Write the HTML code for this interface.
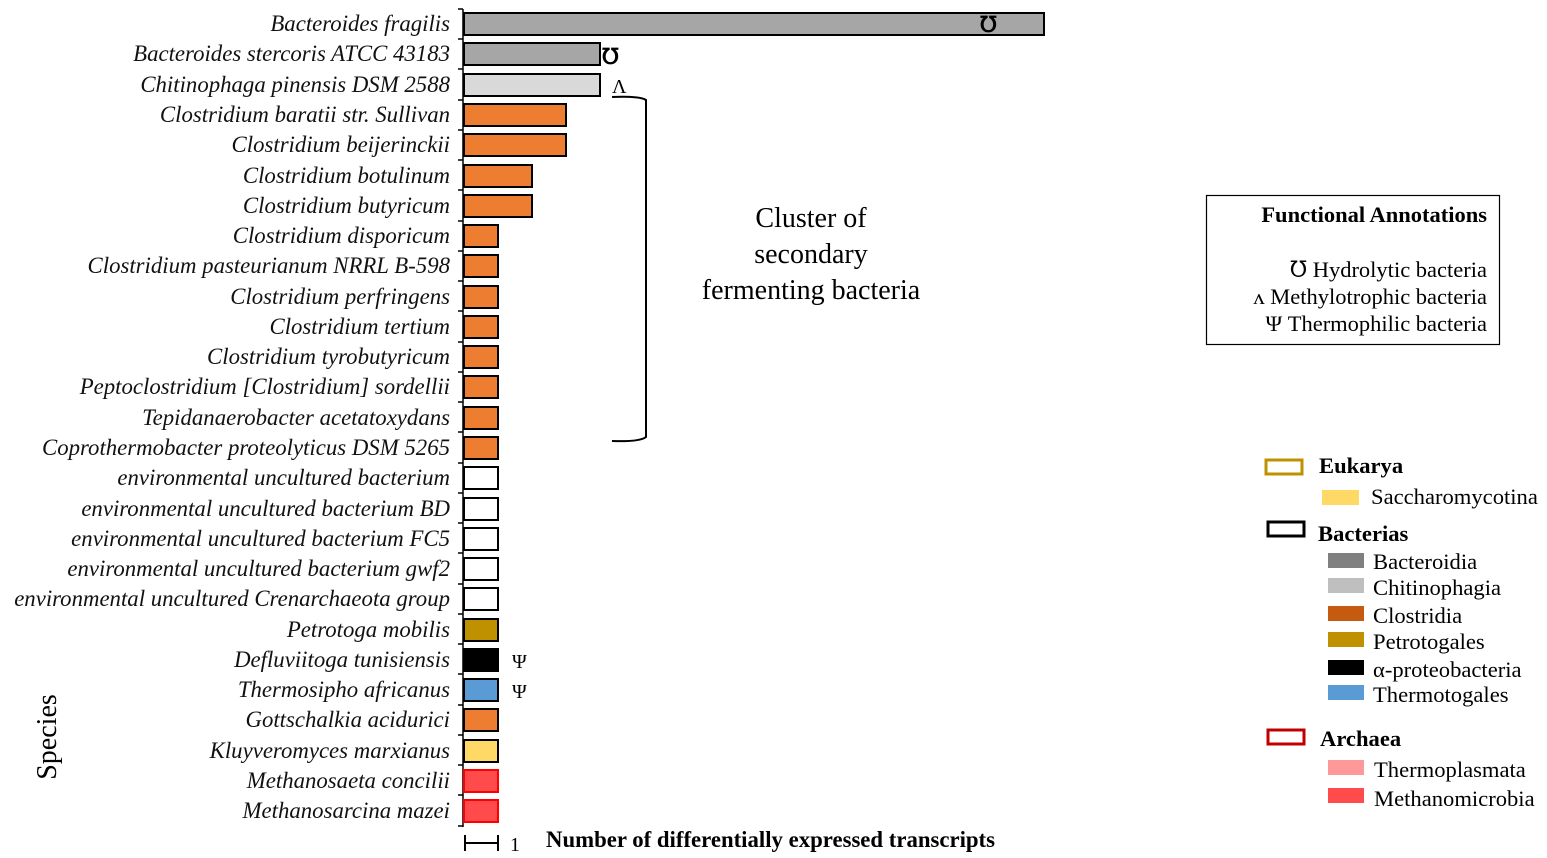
<!DOCTYPE html>
<html><head><meta charset="utf-8"><style>
html,body{margin:0;padding:0;background:#fff;}
svg{display:block;font-family:"Liberation Serif",serif;}
</style></head><body>
<svg width="1547" height="858" viewBox="0 0 1547 858" xmlns="http://www.w3.org/2000/svg">
<g font-style="italic" font-size="22.8" text-anchor="end" fill="#111">
<text x="450" y="31">Bacteroides fragilis</text>
<text x="450" y="61">Bacteroides stercoris ATCC 43183</text>
<text x="450" y="92">Chitinophaga pinensis DSM 2588</text>
<text x="450" y="122">Clostridium baratii str. Sullivan</text>
<text x="450" y="152">Clostridium beijerinckii</text>
<text x="450" y="183">Clostridium botulinum</text>
<text x="450" y="213">Clostridium butyricum</text>
<text x="450" y="243">Clostridium disporicum</text>
<text x="450" y="273">Clostridium pasteurianum NRRL B-598</text>
<text x="450" y="304">Clostridium perfringens</text>
<text x="450" y="334">Clostridium tertium</text>
<text x="450" y="364">Clostridium tyrobutyricum</text>
<text x="450" y="394">Peptoclostridium [Clostridium] sordellii</text>
<text x="450" y="425">Tepidanaerobacter acetatoxydans</text>
<text x="450" y="455">Coprothermobacter proteolyticus DSM 5265</text>
<text x="450" y="485">environmental uncultured bacterium</text>
<text x="450" y="516">environmental uncultured bacterium BD</text>
<text x="450" y="546">environmental uncultured bacterium FC5</text>
<text x="450" y="576">environmental uncultured bacterium gwf2</text>
<text x="450" y="606">environmental uncultured Crenarchaeota group</text>
<text x="450" y="637">Petrotoga mobilis</text>
<text x="450" y="667">Defluviitoga tunisiensis</text>
<text x="450" y="697">Thermosipho africanus</text>
<text x="450" y="727">Gottschalkia acidurici</text>
<text x="450" y="758">Kluyveromyces marxianus</text>
<text x="450" y="788">Methanosaeta concilii</text>
<text x="450" y="818">Methanosarcina mazei</text>
</g>
<line x1="463" y1="9" x2="463" y2="827" stroke="#000" stroke-width="1.5"/>
<g stroke="#000" stroke-width="1.5">
<path d="M458,9H463 M458,39H463 M458,69H463 M458,100H463 M458,130H463 M458,160H463 M458,190H463 M458,221H463 M458,251H463 M458,281H463 M458,311H463 M458,342H463 M458,372H463 M458,402H463 M458,432H463 M458,463H463 M458,493H463 M458,523H463 M458,553H463 M458,584H463 M458,614H463 M458,644H463 M458,674H463 M458,705H463 M458,735H463 M458,765H463 M458,795H463 M458,826H463"/>
</g>
<g stroke="#000" stroke-width="2">
<rect x="464" y="13" width="580" height="22" fill="#a6a6a6"/>
<rect x="464" y="43" width="136" height="22" fill="#a6a6a6"/>
<rect x="464" y="74" width="136" height="22" fill="#d9d9d9"/>
<rect x="464" y="104" width="102" height="22" fill="#ed7d31"/>
<rect x="464" y="134" width="102" height="22" fill="#ed7d31"/>
<rect x="464" y="165" width="68" height="22" fill="#ed7d31"/>
<rect x="464" y="195" width="68" height="22" fill="#ed7d31"/>
<rect x="464" y="225" width="34" height="22" fill="#ed7d31"/>
<rect x="464" y="255" width="34" height="22" fill="#ed7d31"/>
<rect x="464" y="286" width="34" height="22" fill="#ed7d31"/>
<rect x="464" y="316" width="34" height="22" fill="#ed7d31"/>
<rect x="464" y="346" width="34" height="22" fill="#ed7d31"/>
<rect x="464" y="376" width="34" height="22" fill="#ed7d31"/>
<rect x="464" y="407" width="34" height="22" fill="#ed7d31"/>
<rect x="464" y="437" width="34" height="22" fill="#ed7d31"/>
<rect x="464" y="467" width="34" height="22" fill="#fff"/>
<rect x="464" y="498" width="34" height="22" fill="#fff"/>
<rect x="464" y="528" width="34" height="22" fill="#fff"/>
<rect x="464" y="558" width="34" height="22" fill="#fff"/>
<rect x="464" y="588" width="34" height="22" fill="#fff"/>
<rect x="464" y="619" width="34" height="22" fill="#bf9000"/>
<rect x="464" y="649" width="34" height="22" fill="#000"/>
<rect x="464" y="679" width="34" height="22" fill="#5b9bd5"/>
<rect x="464" y="709" width="34" height="22" fill="#ed7d31"/>
<rect x="464" y="740" width="34" height="22" fill="#ffd966"/>
</g>
<g stroke="#f00" stroke-width="2">
<rect x="464" y="770" width="34" height="22" fill="#ff4b4b"/>
<rect x="464" y="800" width="34" height="22" fill="#ff4b4b"/>
</g>
<g font-size="22" font-weight="bold" fill="#000">
<text x="980" y="32">&#x2127;</text>
<text x="602" y="64">&#x2127;</text>
</g>
<text x="612" y="93" font-size="20" fill="#000">Λ</text>
<text x="512" y="668" font-size="20" fill="#000">Ψ</text>
<text x="512" y="698" font-size="20" fill="#000">Ψ</text>
<path d="M612,97 Q640,96 646,100 L646,437 Q640,442 612,441" fill="none" stroke="#000" stroke-width="2"/>
<g font-size="28" text-anchor="middle" fill="#000">
<text x="811" y="227">Cluster of</text>
<text x="811" y="263">secondary</text>
<text x="811" y="299">fermenting bacteria</text>
</g>
<text transform="translate(56,737) rotate(-90)" font-size="28" text-anchor="middle">Species</text>
<path d="M465,835 V851 M465,843 H498 M498,835 V851" stroke="#000" stroke-width="2" fill="none"/>
<text x="510" y="851" font-size="20">1</text>
<text x="546" y="847" font-size="22.8" font-weight="bold" textLength="449" lengthAdjust="spacingAndGlyphs">Number of differentially expressed transcripts</text>
<rect x="1206.5" y="195.5" width="293" height="149" fill="none" stroke="#000" stroke-width="1.2"/>
<g font-size="22.5" text-anchor="end" fill="#000">
<text x="1487" y="222" font-weight="bold">Functional Annotations</text>
<text x="1487" y="277">℧ Hydrolytic bacteria</text>
<text x="1487" y="304">ʌ Methylotrophic bacteria</text>
<text x="1487" y="331">Ψ Thermophilic bacteria</text>
</g>
<g font-size="22.6">
<rect x="1266" y="460" width="36" height="14" fill="none" stroke="#bf9000" stroke-width="3"/>
<text x="1319" y="473" font-weight="bold">Eukarya</text>
<rect x="1322" y="490" width="37" height="15" fill="#ffd966"/>
<text x="1371" y="504">Saccharomycotina</text>
<rect x="1268" y="522" width="36" height="14" fill="none" stroke="#000" stroke-width="3"/>
<text x="1318" y="541" font-weight="bold">Bacterias</text>
<rect x="1328" y="553" width="36" height="15" fill="#808080"/>
<text x="1373" y="569">Bacteroidia</text>
<rect x="1328" y="578" width="36" height="15" fill="#bfbfbf"/>
<text x="1373" y="595">Chitinophagia</text>
<rect x="1328" y="606" width="36" height="15" fill="#c55a11"/>
<text x="1373" y="623">Clostridia</text>
<rect x="1328" y="632" width="36" height="15" fill="#bf9000"/>
<text x="1373" y="649">Petrotogales</text>
<rect x="1328" y="660" width="36" height="15" fill="#000"/>
<text x="1373" y="677">α-proteobacteria</text>
<rect x="1328" y="685" width="36" height="15" fill="#5b9bd5"/>
<text x="1373" y="702">Thermotogales</text>
<rect x="1268" y="730" width="36" height="14" fill="none" stroke="#c00000" stroke-width="3"/>
<text x="1320" y="746" font-weight="bold">Archaea</text>
<rect x="1328" y="760" width="36" height="15" fill="#ff9999"/>
<text x="1374" y="777">Thermoplasmata</text>
<rect x="1328" y="788" width="36" height="15" fill="#ff4b4b"/>
<text x="1374" y="806">Methanomicrobia</text>
</g>
</svg>
</body></html>
